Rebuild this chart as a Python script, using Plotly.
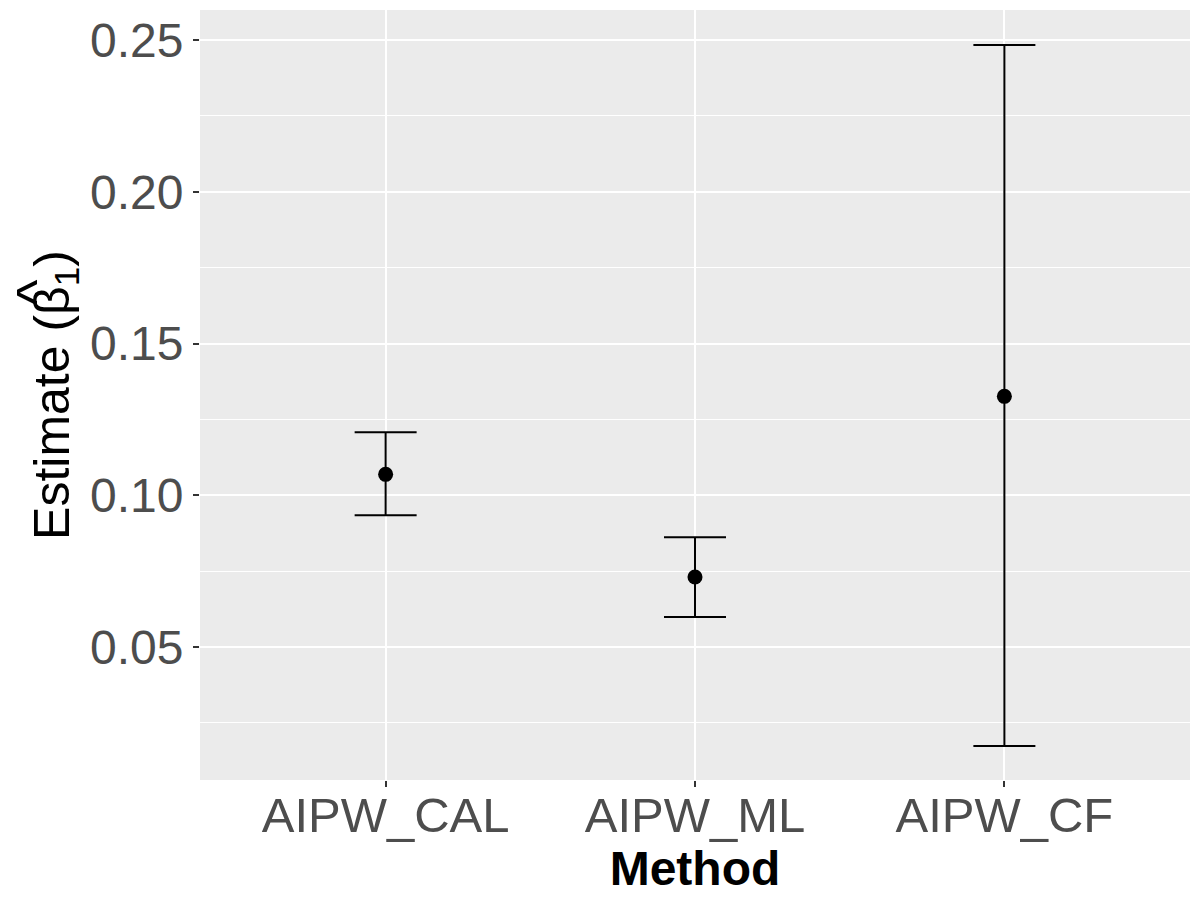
import plotly.graph_objects as go

# estimates and 95% CI
methods  = ["AIPW_CAL", "AIPW_ML", "AIPW_CF"]
estimate = [0.1069, 0.0731, 0.1326]
lower    = [0.0934, 0.0599, 0.0174]
upper    = [0.1208, 0.0862, 0.2484]

errPlus  = [u - e for u, e in zip(upper, estimate)]
errMinus = [e - l for e, l in zip(estimate, lower)]

FONT = "Liberation Sans, Arial, sans-serif"

fig = go.Figure()
fig.add_trace(go.Scatter(
    x=methods, y=estimate, mode="markers",
    marker=dict(color="black", size=15),
    error_y=dict(type="data", symmetric=False, array=errPlus, arrayminus=errMinus,
                 color="black", thickness=2, width=31),
    showlegend=False,
))

# hat over the beta in the y title (rotated with the title)
fig.add_annotation(text="^", xref="paper", yref="paper", x=-0.2, y=0.632,
                   textangle=-90, showarrow=False, font=dict(size=56, color="black"))

fig.update_layout(
    width=1192, height=892,
    margin=dict(l=192, r=10, t=2, b=120),
    paper_bgcolor="white", plot_bgcolor="#EBEBEB",
    font=dict(family=FONT, size=48, color="#4D4D4D"),
)
fig.update_xaxes(
    range=[-0.6, 2.6], showgrid=True, gridcolor="white", gridwidth=2,
    ticks="outside", ticklen=6, tickcolor="#333333", tickwidth=2,
    tickfont=dict(size=49, color="#4D4D4D"), ticklabelstandoff=-14,
    title=dict(text="<b>Method</b>", font=dict(size=48, color="black"), standoff=0),
    zeroline=False, showline=False,
)
fig.update_yaxes(
    range=[0.0062, 0.2599], tickvals=[0.05, 0.10, 0.15, 0.20, 0.25],
    ticktext=["0.05", "0.10", "0.15", "0.20", "0.25"],
    showgrid=True, gridcolor="white", gridwidth=2,
    minor=dict(tickvals=[0.025, 0.075, 0.125, 0.175, 0.225], showgrid=True,
               gridcolor="white", gridwidth=1, ticks=""),
    ticks="outside", ticklen=6, tickcolor="#333333", tickwidth=2,
    tickfont=dict(size=48, color="#4D4D4D"),
    title=dict(text="Estimate (β<sub>1</sub>)", font=dict(size=50, color="black"), standoff=4),
    zeroline=False, showline=False,
)

fig.write_html("out.html")
